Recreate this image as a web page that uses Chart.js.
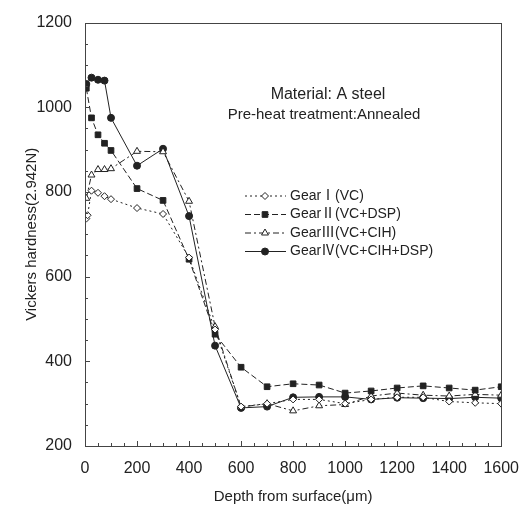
<!DOCTYPE html>
<html>
<head>
<meta charset="utf-8">
<script src="https://cdn.jsdelivr.net/npm/chart.js@4/dist/chart.umd.min.js"></script>
<style>
  html, body { margin: 0; padding: 0; background: #fff; }
</style>
</head>
<body>
<canvas id="hardnessChart" width="532" height="507"></canvas>
<script>
"use strict"

// values
const seriesNames = ['GearⅠ(VC)', 'GearⅡ(VC+DSP)', 'GearⅢ(VC+CIH)', 'GearⅣ(VC+CIH+DSP)'];
const tailDepth = [200, 300, 400, 500, 600, 700, 800, 900, 1000, 1100, 1200, 1300, 1400, 1500, 1600];

const gear1Depth = [5, 10, 25, 50, 75, 100].concat(tailDepth);
const gear1Hv = [737, 745, 803, 798, 790, 783, 762, 748, 645, 475, 293, 300, 310, 310, 300, 310, 315, 315, 305, 302, 300];

const gear2Depth = [5, 25, 50, 75, 100].concat(tailDepth);
const gear2Hv = [1045, 975, 935, 915, 898, 808, 780, 641, 464, 386, 340, 347, 344, 325, 330, 337, 342, 337, 332, 340];

const gear3Depth = [5, 25, 50, 75, 100].concat(tailDepth);
const gear3Hv = [785, 840, 853, 853, 855, 896, 895, 778, 482, 292, 300, 283, 295, 298, 318, 325, 320, 318, 322, 320];

const gear4Depth = [5, 25, 50, 75, 100].concat(tailDepth);
const gear4Hv = [1055, 1070, 1065, 1063, 975, 862, 902, 743, 437, 290, 293, 315, 316, 316, 310, 314, 313, 312, 315, 313];

const xTicks = [0, 200, 400, 600, 800, 1000, 1200, 1400, 1600];
const yTicks = [200, 400, 600, 800, 1000, 1200];

const ink = '#222';
const fontFamily = '"Liberation Sans", Arial, "Noto Sans CJK JP", sans-serif';

document.addEventListener("DOMContentLoaded", () => {
  drawHardnessChart();
});

function pairs(xs, ys) {
  return xs.map((x, i) => ({ x: x, y: ys[i] }));
}

function makeSet(name, xs, ys, dash, style, fill, radius) {
  return {
    label: name,
    data: pairs(xs, ys),
    showLine: true,
    borderColor: ink,
    borderWidth: 1,
    borderDash: dash,
    pointStyle: style,
    pointRadius: radius,
    pointBackgroundColor: fill,
    pointBorderColor: ink,
    pointBorderWidth: 1
  };
}

// frame, inward tick marks, notes and legend
const decorations = {
  id: 'decorations',
  afterDraw(chart) {
    const { ctx, chartArea: a, scales: { x, y } } = chart;
    ctx.save();
    ctx.strokeStyle = '#444';
    ctx.lineWidth = 1;
    ctx.setLineDash([]);
    ctx.strokeRect(Math.round(a.left) + 0.5, Math.round(a.top) + 0.5, Math.round(a.width), Math.round(a.height));

    ctx.beginPath();
    for (let v = y.min; v <= y.max; v += 50) {
      const py = Math.round(y.getPixelForValue(v)) + 0.5;
      const len = v % 200 === 0 ? 5 : 3;
      ctx.moveTo(a.left, py);
      ctx.lineTo(a.left + len, py);
    }
    for (let v = x.min; v <= x.max; v += 50) {
      const px = Math.round(x.getPixelForValue(v)) + 0.5;
      const len = v % 200 === 0 ? 5 : 3;
      ctx.moveTo(px, a.bottom);
      ctx.lineTo(px, a.bottom - len);
    }
    ctx.stroke();

    ctx.fillStyle = ink;
    ctx.textAlign = 'center';
    ctx.textBaseline = 'middle';
    ctx.font = '16px ' + fontFamily;
    ctx.fillText('Material: A steel', 328, 95);
    ctx.font = '15px ' + fontFamily;
    ctx.fillText('Pre-heat treatment:Annealed', 324, 115);

    // legend
    ctx.textAlign = 'left';
    ctx.font = '14px ' + fontFamily;
    chart.data.datasets.forEach((ds, i) => {
      const ly = 196 + i * 18.5;
      ctx.strokeStyle = ink;
      ctx.lineWidth = 1;
      ctx.setLineDash(ds.borderDash || []);
      ctx.beginPath();
      ctx.moveTo(245, ly);
      ctx.lineTo(286, ly);
      ctx.stroke();
      ctx.setLineDash([]);
      ctx.fillStyle = ds.pointBackgroundColor;
      Chart.helpers.drawPoint(ctx, {
        pointStyle: ds.pointStyle,
        radius: ds.pointRadius,
        rotation: 0,
        borderWidth: 1
      }, 265, ly);
      ctx.fillStyle = ink;
      ctx.fillText(ds.label, 290, ly);
    });
    ctx.restore();
  }
};

function drawHardnessChart() {
  const options = {
    type: 'scatter',
    data: {
      datasets: [
        makeSet(seriesNames[0], gear1Depth, gear1Hv, [2, 3], 'rectRot', '#fff', 3.5),
        makeSet(seriesNames[1], gear2Depth, gear2Hv, [6, 3], 'rect', ink, 4),
        makeSet(seriesNames[2], gear3Depth, gear3Hv, [6, 3, 2, 3], 'triangle', '#fff', 4),
        makeSet(seriesNames[3], gear4Depth, gear4Hv, [], 'circle', ink, 3.5)
      ]
    },
    options: {
      responsive: false,
      animation: false,
      layout: { padding: { top: 15, right: 23, left: 0, bottom: 0 } },
      plugins: {
        legend: { display: false },
        tooltip: { enabled: false }
      },
      scales: {
        x: {
          type: 'linear',
          min: 0,
          max: 1600,
          grid: { display: false, drawTicks: false },
          border: { display: false },
          afterBuildTicks: (s) => { s.ticks = xTicks.map(v => ({ value: v })); },
          afterFit: (s) => { s.height = 61; },
          ticks: {
            color: ink,
            padding: 13,
            maxRotation: 0,
            font: { family: fontFamily, size: 16 },
            callback: (v) => String(v)
          },
          title: {
            display: true,
            text: 'Depth from surface(μm)',
            color: ink,
            padding: { top: 0, bottom: 1 },
            font: { family: fontFamily, size: 15 }
          }
        },
        y: {
          type: 'linear',
          min: 200,
          max: 1200,
          grid: { display: false, drawTicks: false },
          border: { display: false },
          afterBuildTicks: (s) => { s.ticks = yTicks.map(v => ({ value: v })); },
          afterFit: (s) => { s.width = 85; },
          ticks: {
            color: ink,
            padding: 13,
            font: { family: fontFamily, size: 16 },
            callback: (v) => String(v)
          },
          title: {
            display: true,
            text: 'Vickers hardness(2.942N)',
            color: ink,
            padding: { top: 23, bottom: 0 },
            font: { family: fontFamily, size: 15 }
          }
        }
      }
    },
    plugins: [decorations]
  };
  const ctx = document.getElementById('hardnessChart');
  new Chart(ctx, options);
}
</script>
</body>
</html>
